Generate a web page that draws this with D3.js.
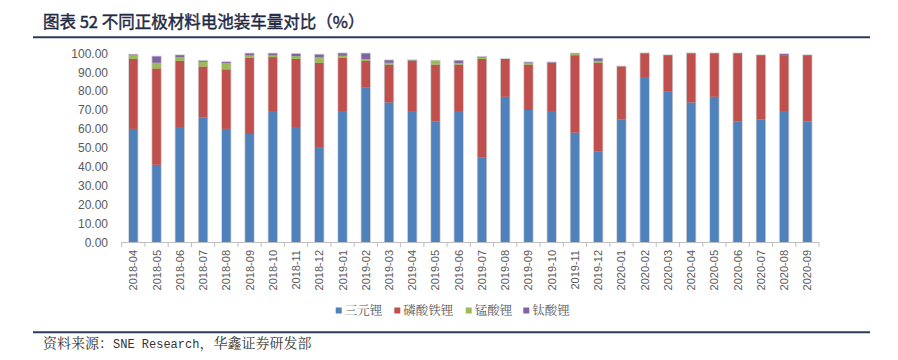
<!DOCTYPE html>
<html><head><meta charset="utf-8">
<script src="https://cdn.jsdelivr.net/npm/d3@7/dist/d3.min.js"></script>
<style>
body{margin:0;background:#fff;}
svg{display:block;}
</style></head>
<body>
<svg id="c" width="898" height="360"></svg>
<script>
const months = ["2018-04","2018-05","2018-06","2018-07","2018-08","2018-09","2018-10","2018-11","2018-12",
"2019-01","2019-02","2019-03","2019-04","2019-05","2019-06","2019-07","2019-08","2019-09","2019-10","2019-11","2019-12",
"2020-01","2020-02","2020-03","2020-04","2020-05","2020-06","2020-07","2020-08","2020-09"];
const ncm = [60,41,61,66,60,57.3,69,61,50, 69,82,74,69,64,69,45,77,70,69,58,48, 65,87,80,74,77,64,65,69,64];
const lfp = [37,51,35,27,31.5,40.4,29,36,45, 28.7,14,20,27,30,25,52,20,24,26,41,47, 28,13,19,26,23,36,34,30,35];
const lmo = [2,3,2,2.5,3.4,1.2,0.9,1.5,2.9, 1,1,1,0.2,2.1,0.9,0.8,0,0.9,0,0.7,1, 0,0,0,0,0,0,0,0,0];
const lto = [0.3,3.3,1,0.5,0.5,1,1,1.2,1.4, 1.3,2.9,1.3,0.2,0,1.2,0.3,0,0.3,0.2,0.2,1.2, 0,0,0,0,0,0,0,0.6,0];
const seriesNames = ["三元锂","磷酸铁锂","锰酸锂","钛酸锂"];
const colors = ["#4F81BD","#C0504D","#9BBB59","#8064A2"];
const yTicks = [0,10,20,30,40,50,60,70,80,90,100];

const svg = d3.select("#c");
const serif = "'Liberation Serif','Noto Serif CJK SC','Noto Sans CJK SC',serif";
const sans = "'Liberation Sans','Noto Sans CJK SC',sans-serif";

// title
svg.append("text").attr("x",43).attr("y",28).attr("font-family","'Noto Sans CJK SC',sans-serif")
  .attr("font-size",16.5).attr("font-weight","normal").attr("fill","#1f2a44")
  .attr("stroke","#1f2a44").attr("stroke-width",0.45).text("图表 52 不同正极材料电池装车量对比（%）");
svg.append("line").attr("x1",33).attr("x2",870).attr("y1",37.3).attr("y2",37.3).attr("stroke","#2b3a5c").attr("stroke-width",2);
svg.append("line").attr("x1",33).attr("x2",870).attr("y1",332.3).attr("y2",332.3).attr("stroke","#2b3a5c").attr("stroke-width",2);
const src = svg.append("text").attr("x",43).attr("y",348).attr("font-family",serif).attr("font-size",14).attr("fill","#333");
src.append("tspan").text("资料来源：");
src.append("tspan").attr("font-family","'Liberation Mono',monospace").attr("font-size",12).text("SNE Research");
src.append("tspan").text("，华鑫证券研发部");

const x = d3.scaleBand().domain(months).range([121.7,819]).paddingInner(0.63).paddingOuter(0.315);
const y = d3.scaleLinear().domain([0,100]).range([242.3,53.3]);

// y axis labels
const gy = svg.append("g").attr("transform","translate(108,0)")
  .call(d3.axisLeft(y).tickValues(yTicks).tickSize(0).tickPadding(0).tickFormat(d3.format(".2f")));
gy.select(".domain").remove();
gy.selectAll("text").attr("font-family",sans).attr("font-size",12).attr("fill","#595959");

const data = months.map((m,i)=>({m, ncm:ncm[i], lfp:lfp[i], lmo:lmo[i], lto:lto[i]}));
const keys = ["ncm","lfp","lmo","lto"];
const stack = d3.stack().keys(keys)(data);

// shadow outline
svg.append("g").selectAll("rect").data(data).join("rect")
  .attr("x",d=>x(d.m)-0.8).attr("width",x.bandwidth()+1.6)
  .attr("y",d=>y(d.ncm+d.lfp+d.lmo+d.lto)-0.8)
  .attr("height",d=>y(0)-y(d.ncm+d.lfp+d.lmo+d.lto)+0.8)
  .attr("fill","#cfcfcf");

svg.append("g").selectAll("g").data(stack).join("g").attr("fill",(d,i)=>colors[i])
  .selectAll("rect").data(d=>d).join("rect")
  .attr("x",d=>x(d.data.m)).attr("width",x.bandwidth())
  .attr("y",d=>y(d[1])).attr("height",d=>Math.max(0,y(d[0])-y(d[1])));

// x axis
const ax = svg.append("g");
ax.append("line").attr("x1",121.7).attr("x2",819).attr("y1",242.5).attr("y2",242.5).attr("stroke","#bfbfbf");
const bounds = months.map(m=>x(m)-x.step()*x.paddingOuter()).concat([819]);
ax.selectAll("line.t").data(bounds).join("line").attr("class","t")
  .attr("x1",d=>d).attr("x2",d=>d).attr("y1",242.5).attr("y2",247).attr("stroke","#bfbfbf");
ax.selectAll("text").data(months).join("text")
  .attr("transform",d=>`translate(${x(d)+x.bandwidth()/2+4},250) rotate(-90)`)
  .attr("text-anchor","end").attr("font-family",sans).attr("font-size",11).attr("fill","#595959").text(d=>d);

// legend
const legX = [335.7,394.3,465.7,523.3];
const lg = svg.append("g");
seriesNames.forEach((n,i)=>{
  lg.append("rect").attr("x",legX[i]).attr("y",307.5).attr("width",6).attr("height",6).attr("fill",colors[i]);
  lg.append("text").attr("x",legX[i]+9).attr("y",315).attr("font-family",serif).attr("font-size",12.5)
    .attr("fill","#595959").text(n);
});
</script>
</body></html>
